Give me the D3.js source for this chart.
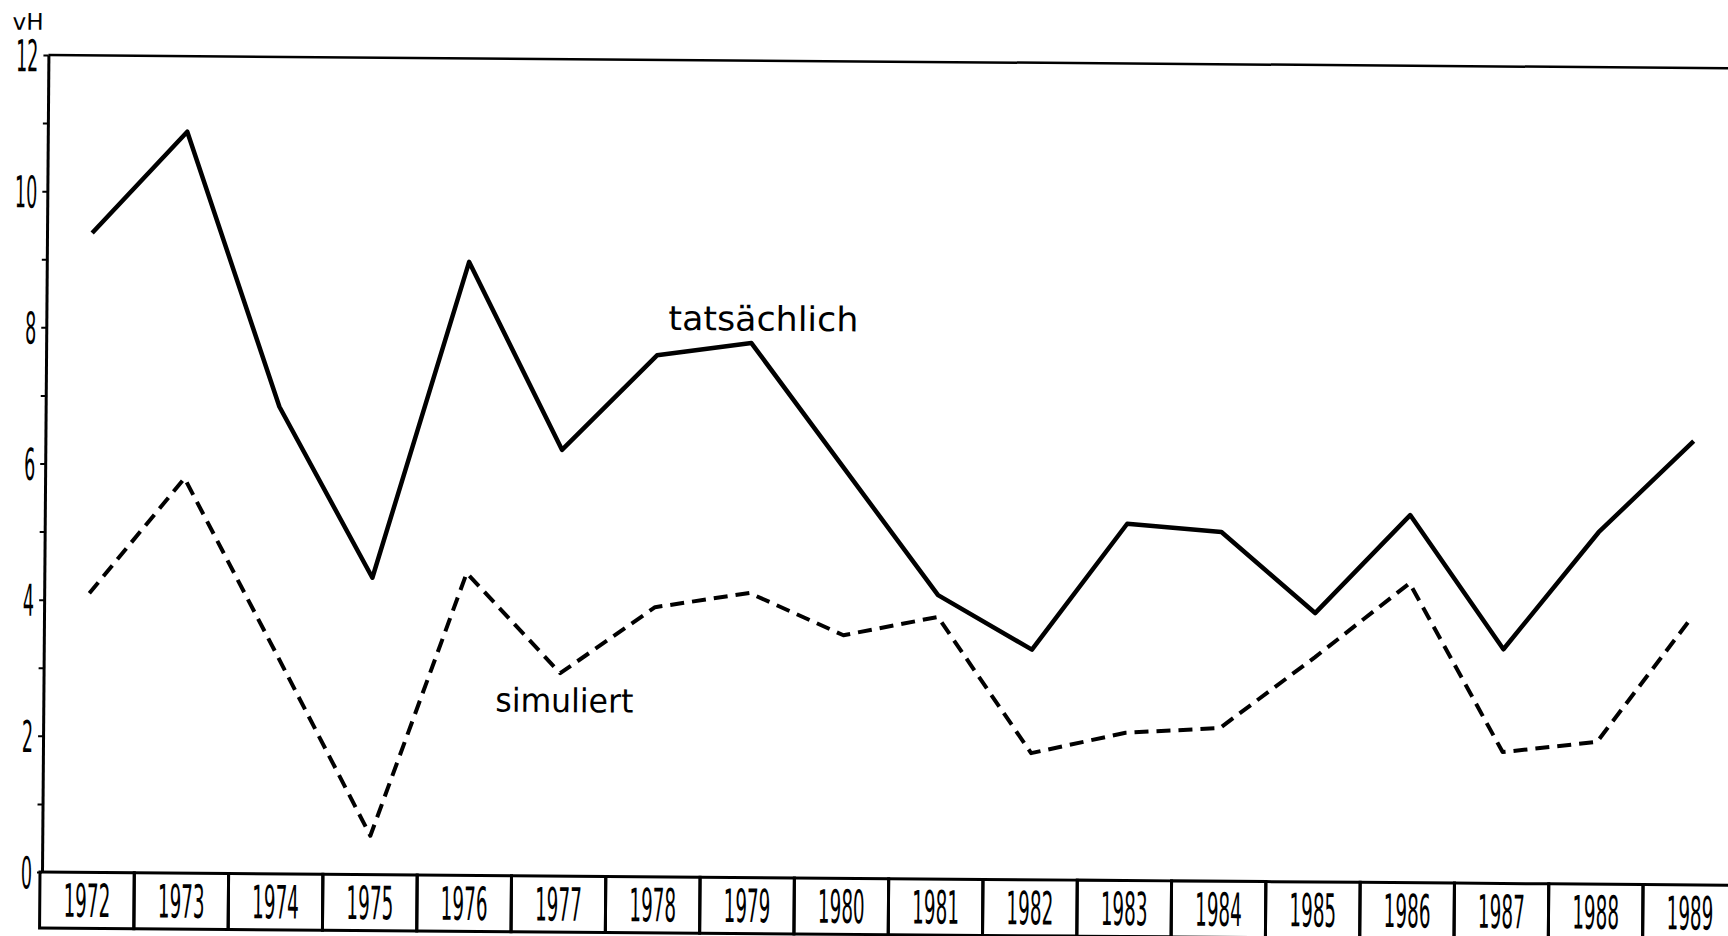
<!DOCTYPE html>
<html>
<head>
<meta charset="utf-8">
<script src="https://cdn.jsdelivr.net/npm/d3@7"></script>
<style>
  html, body { margin: 0; padding: 0; background: #fff; }
  svg { display: block; }
  text { font-family: "DejaVu Sans", sans-serif; fill: #000; }
</style>
</head>
<body>
<svg id="chart" width="1728" height="936"></svg>
<script>
// ---- data ----
const years = [1972, 1973, 1974, 1975, 1976, 1977, 1978, 1979, 1980,
               1981, 1982, 1983, 1984, 1985, 1986, 1987, 1988, 1989];
const tatsaechlich = [9.39, 10.89, 6.86, 4.36, 9.01, 6.26, 7.66, 7.85, 6.01,
                      4.17, 3.38, 5.24, 5.13, 3.95, 5.40, 3.44, 5.17, 6.52];
const simuliert = [4.10, 5.80, 3.20, 0.57, 4.44, 2.98, 3.96, 4.18, 3.57,
                   3.85, 1.86, 2.17, 2.25, 3.30, 4.40, 1.93, 2.09, 3.94];
const yTickValues = [0, 1, 2, 3, 4, 5, 6, 7, 8, 9, 10, 11, 12];
const yLabelValues = [0, 2, 4, 6, 8, 10, 12];
const unitLabel = "vH";
const seriesLabels = ["tatsächlich", "simuliert"];

// ---- layout ----
const svg = d3.select("#chart");
const plotH = 817;
const boxH = 56;
const digitScale = 0.4;

// the scanned original is slightly rotated; reproduce the tilt
const g = svg.append("g").attr("transform", "translate(42,872) rotate(0.45)");

const y = d3.scaleLinear().domain([0, 12]).range([0, -plotH]);
const x = d3.scaleBand().domain(years).range([-2, -2 + years.length * 94.3]).padding(0);
const cx = yr => x(yr) + x.bandwidth() / 2;

// top frame line
g.append("line")
  .attr("x1", 0).attr("x2", 1760)
  .attr("y1", y(12)).attr("y2", y(12))
  .attr("stroke", "#000").attr("stroke-width", 2.5);

// y axis
const yAxis = d3.axisLeft(y)
  .tickValues(yTickValues)
  .tickSize(5)
  .tickSizeOuter(0)
  .tickFormat(d => yLabelValues.includes(d) ? String(d) : "");
const ya = g.append("g").call(yAxis);
ya.select(".domain").attr("stroke", "#000").attr("stroke-width", 3);
ya.selectAll(".tick line").attr("stroke", "#000").attr("stroke-width", 2);
ya.selectAll(".tick text")
  .attr("font-family", "DejaVu Sans, sans-serif")
  .attr("font-size", 44)
  .attr("text-anchor", "end")
  .attr("transform", `scale(${digitScale},1)`)
  .attr("x", -10 / digitScale)
  .attr("dy", "0.36em")
  .attr("fill", "#000");

// year boxes
const boxes = g.append("g").selectAll("g").data(years).join("g")
  .attr("transform", d => `translate(${x(d)},0)`);
boxes.append("rect")
  .attr("x", 0).attr("y", 0)
  .attr("width", x.bandwidth()).attr("height", boxH)
  .attr("fill", "none").attr("stroke", "#000").attr("stroke-width", 3);
boxes.append("text")
  .attr("transform", `translate(${x.bandwidth() / 2},${boxH / 2}) scale(${digitScale},1)`)
  .attr("text-anchor", "middle")
  .attr("dy", "0.36em")
  .attr("font-size", 46)
  .text(d => d);

// lines
const line = d3.line().x((d, i) => cx(years[i])).y(d => y(d));
g.append("path")
  .datum(tatsaechlich)
  .attr("d", line)
  .attr("fill", "none").attr("stroke", "#000")
  .attr("stroke-width", 4.5).attr("stroke-linejoin", "round");
g.append("path")
  .datum(simuliert)
  .attr("d", line)
  .attr("fill", "none").attr("stroke", "#000")
  .attr("stroke-width", 4).attr("stroke-dasharray", "14,8")
  .attr("stroke-linejoin", "round");

// labels
g.append("text")
  .attr("x", -36).attr("y", -842)
  .attr("font-size", 23)
  .text(unitLabel);
g.append("text")
  .attr("x", 622).attr("y", -547)
  .attr("font-size", 34)
  .attr("textLength", 190).attr("lengthAdjust", "spacingAndGlyphs")
  .text(seriesLabels[0]);
g.append("text")
  .attr("x", 452).attr("y", -164)
  .attr("font-size", 33)
  .attr("textLength", 138).attr("lengthAdjust", "spacingAndGlyphs")
  .text(seriesLabels[1]);
</script>
</body>
</html>
